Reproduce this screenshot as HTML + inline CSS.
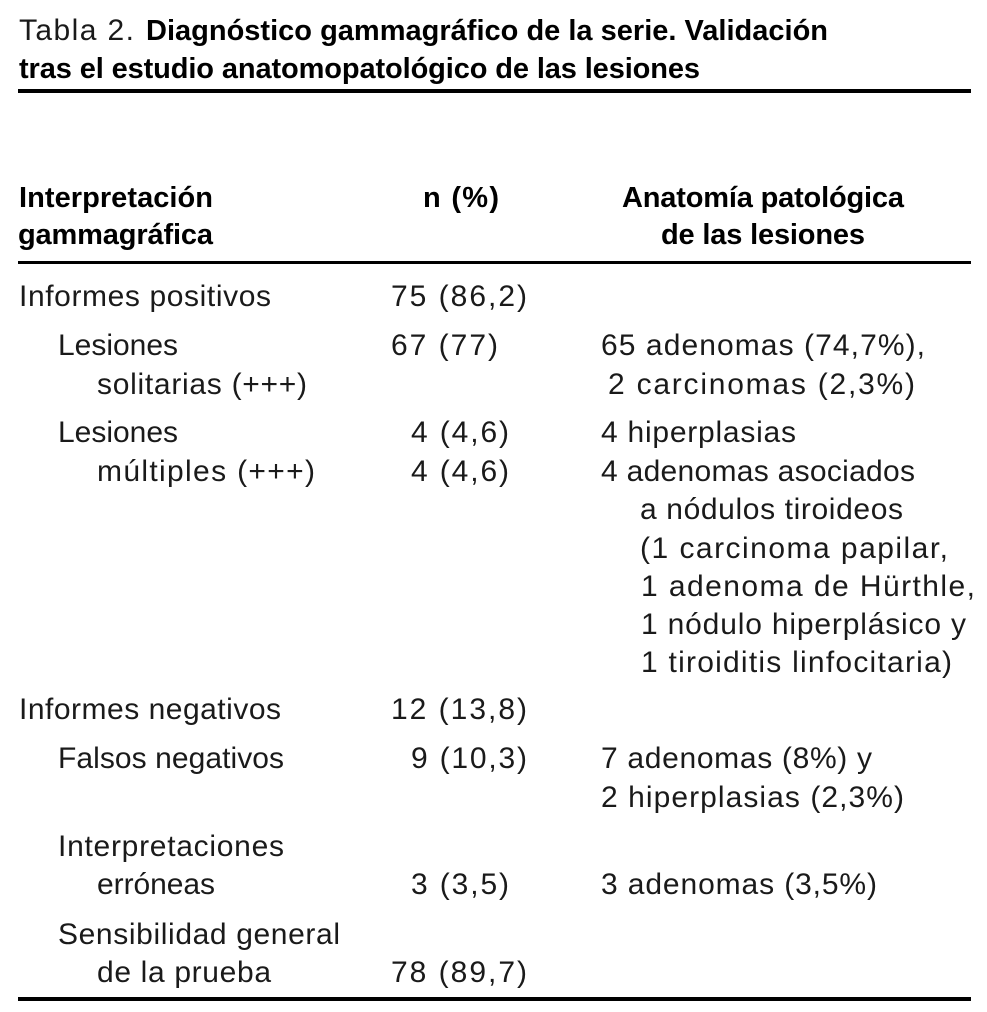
<!DOCTYPE html>
<html lang="es">
<head>
<meta charset="utf-8">
<title>Tabla 2</title>
<style>
html,body{margin:0;padding:0;background:#fff}
svg{display:block}
text{font-family:"Liberation Sans",sans-serif;font-size:30px;fill:#1a1a1a;white-space:pre}
.b{font-weight:700;font-size:29px;fill:#000}
rect{fill:#000}
</style>
</head>
<body>
<svg width="987" height="1012" viewBox="0 0 987 1012" xmlns="http://www.w3.org/2000/svg">
<rect width="987" height="1012" style="fill:#fff"/>
<g>
<text x="19" y="40" textLength="115" lengthAdjust="spacing">Tabla 2.</text>
<text class="b" x="146" y="40" textLength="682" lengthAdjust="spacing">Diagnóstico gammagráfico de la serie. Validación</text>
<text class="b" x="19" y="78" textLength="681" lengthAdjust="spacing">tras el estudio anatomopatológico de las lesiones</text>
</g>
<rect x="18" y="89" width="953" height="4"/>

<g>
<text class="b" x="19" y="207" textLength="194" lengthAdjust="spacing">Interpretación</text>
<text class="b" x="18" y="244" textLength="195" lengthAdjust="spacing">gammagráfica</text>
<text class="b" x="423" y="207" textLength="76" lengthAdjust="spacing">n (%)</text>
<text class="b" x="622" y="207" textLength="282" lengthAdjust="spacing">Anatomía patológica</text>
<text class="b" x="661" y="244" textLength="204" lengthAdjust="spacing">de las lesiones</text>
</g>
<rect x="18" y="261" width="953" height="3"/>

<g>
<text x="19" y="306" textLength="252" lengthAdjust="spacing">Informes positivos</text>
<text x="391" y="306" textLength="136" lengthAdjust="spacing">75 (86,2)</text>
</g>

<g>
<text x="58" y="355" textLength="120" lengthAdjust="spacing">Lesiones</text>
<text x="97" y="394" textLength="210" lengthAdjust="spacing">solitarias (+++)</text>
<text x="391" y="355" textLength="107" lengthAdjust="spacing">67 (77)</text>
<text x="601" y="355" textLength="324" lengthAdjust="spacing">65 adenomas (74,7%),</text>
<text x="608" y="394" textLength="307" lengthAdjust="spacing">2 carcinomas (2,3%)</text>
</g>

<g>
<text x="58" y="442" textLength="120" lengthAdjust="spacing">Lesiones</text>
<text x="97" y="481" textLength="218" lengthAdjust="spacing">múltiples (+++)</text>
<text x="411" y="442" textLength="98" lengthAdjust="spacing">4 (4,6)</text>
<text x="411" y="481" textLength="98" lengthAdjust="spacing">4 (4,6)</text>
<text x="601" y="442" textLength="195" lengthAdjust="spacing">4 hiperplasias</text>
<text x="601" y="481" textLength="314" lengthAdjust="spacing">4 adenomas asociados</text>
<text x="640" y="519" textLength="263" lengthAdjust="spacing">a nódulos tiroideos</text>
<text x="640" y="558" textLength="308" lengthAdjust="spacing">(1 carcinoma papilar,</text>
<text x="641" y="596" textLength="334" lengthAdjust="spacing">1 adenoma de Hürthle,</text>
<text x="641" y="634" textLength="325" lengthAdjust="spacing">1 nódulo hiperplásico y</text>
<text x="641" y="672" textLength="311" lengthAdjust="spacing">1 tiroiditis linfocitaria)</text>
</g>

<g>
<text x="19" y="719" textLength="262" lengthAdjust="spacing">Informes negativos</text>
<text x="391" y="719" textLength="136" lengthAdjust="spacing">12 (13,8)</text>
</g>

<g>
<text x="58" y="768" textLength="226" lengthAdjust="spacing">Falsos negativos</text>
<text x="411" y="768" textLength="116" lengthAdjust="spacing">9 (10,3)</text>
<text x="601" y="768" textLength="271" lengthAdjust="spacing">7 adenomas (8%) y</text>
<text x="601" y="807" textLength="303" lengthAdjust="spacing">2 hiperplasias (2,3%)</text>
</g>

<g>
<text x="58" y="856" textLength="226" lengthAdjust="spacing">Interpretaciones</text>
<text x="97" y="894" textLength="118" lengthAdjust="spacing">erróneas</text>
<text x="411" y="894" textLength="98" lengthAdjust="spacing">3 (3,5)</text>
<text x="601" y="894" textLength="276" lengthAdjust="spacing">3 adenomas (3,5%)</text>
</g>

<g>
<text x="58" y="944" textLength="282" lengthAdjust="spacing">Sensibilidad general</text>
<text x="97" y="982" textLength="174" lengthAdjust="spacing">de la prueba</text>
<text x="391" y="982" textLength="136" lengthAdjust="spacing">78 (89,7)</text>
</g>
<rect x="18" y="997" width="953" height="4"/>
</svg>
</body>
</html>
